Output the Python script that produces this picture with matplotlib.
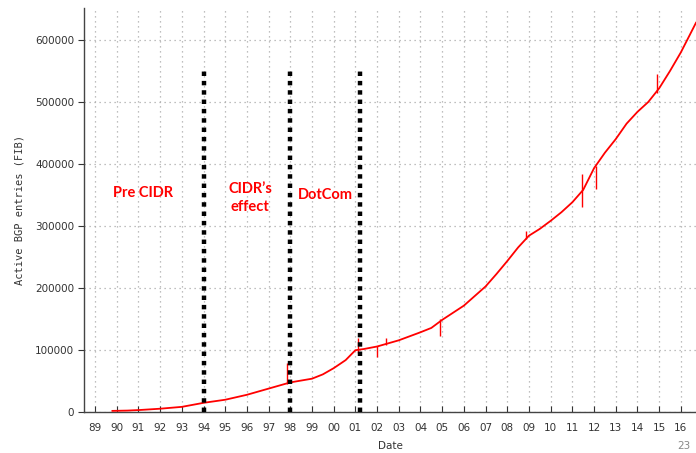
import matplotlib.pyplot as plt

# BGP table growth
years = [1989.8, 1990.5, 1991.1, 1992, 1993, 1994, 1995, 1996, 1997, 1997.8,
         1998, 1998.5, 1999, 1999.5, 2000, 2000.55, 2001, 2001.4, 2002, 2003,
         2004, 2004.5, 2005, 2006, 2007, 2007.5, 2008, 2008.5, 2009, 2009.5,
         2010, 2010.5, 2011, 2011.5, 2012, 2012.5, 2013, 2013.5, 2014, 2014.5,
         2015, 2015.5, 2016, 2016.7]
entries = [1000, 1500, 2500, 4500, 7500, 14000, 19000, 27000, 37000, 45000,
           47000, 50000, 53000, 60000, 70000, 83000, 99000, 101000, 105000, 115000,
           128000, 135000, 148000, 171000, 202000, 222000, 243000, 265000, 284000, 295000,
           308000, 322000, 338000, 358000, 393000, 418000, 440000, 465000, 484000, 500000,
           522000, 550000, 580000, 628000]

# short glitches in the series
spike_years = [1997.85, 2001.1, 2002.0, 2002.4, 2004.9, 2008.85, 2011.45, 2012.1, 2014.92]
spike_low = [45000, 95000, 88000, 108000, 122000, 278000, 330000, 360000, 515000]
spike_high = [78000, 118000, 106000, 119000, 150000, 292000, 383000, 396000, 545000]

# era boundaries
event_years = [1994, 1998, 2001.2]
event_top = 550000

tick_years = list(range(1989, 2017))
tick_labels = [f'{y % 100:02d}' for y in tick_years]

fig = plt.figure(figsize=(6.96, 4.53), dpi=100)
ax = fig.add_axes([84 / 696, 1 - 411.5 / 453, 1 - 84 / 696, (411.5 - 8.5) / 453])

ax.plot(years, entries, color='red', lw=1.3, zorder=3)
ax.vlines(spike_years, spike_low, spike_high, color='red', lw=1.0, zorder=3)
ax.vlines(event_years, 0, event_top, color='black', lw=3.2,
          linestyles=(0, (1, 1.1)), zorder=4)

ax.set_xlim(1988.49, 2016.70)
ax.set_ylim(0, 651000)
ax.set_xticks(tick_years)
ax.set_xticklabels(tick_labels)
ax.set_yticks(range(0, 600001, 100000))
ax.grid(True, color='#aaaaaa', linestyle=(0, (1, 3)), lw=0.9)
ax.set_axisbelow(True)

for s in ['top', 'right']:
    ax.spines[s].set_visible(False)
for s in ['left', 'bottom']:
    ax.spines[s].set_color('#444444')
    ax.spines[s].set_linewidth(1.0)

ax.tick_params(axis='x', direction='in', length=4, pad=8, labelsize=7.5,
               colors='#333333', width=0.8)
ax.tick_params(axis='y', direction='out', length=4, pad=3, labelsize=7.5,
               colors='#333333', width=0.8)

ax.set_xlabel('Date', fontsize=7.5, color='#333333', labelpad=6)
ax.set_ylabel('Active BGP entries (FIB)', fontsize=7.5, color='#333333',
              family='DejaVu Sans Mono', labelpad=8)

txt = dict(color='red', fontsize=10.5, fontweight='bold', family='Lato',
           ha='center', va='center', transform=fig.transFigure)
fig.text(143 / 696, 1 - 193 / 453, 'Pre CIDR', **txt)
fig.text(250 / 696, 1 - 198 / 453, 'CIDR\u2019s\neffect', linespacing=1.4, **txt)
fig.text(325 / 696, 1 - 195 / 453, 'DotCom', **txt)

fig.text(677 / 696, 1 - 446 / 453, '23', color='#888888', fontsize=7.5, va='center')

plt.savefig('out.png', dpi=100)
